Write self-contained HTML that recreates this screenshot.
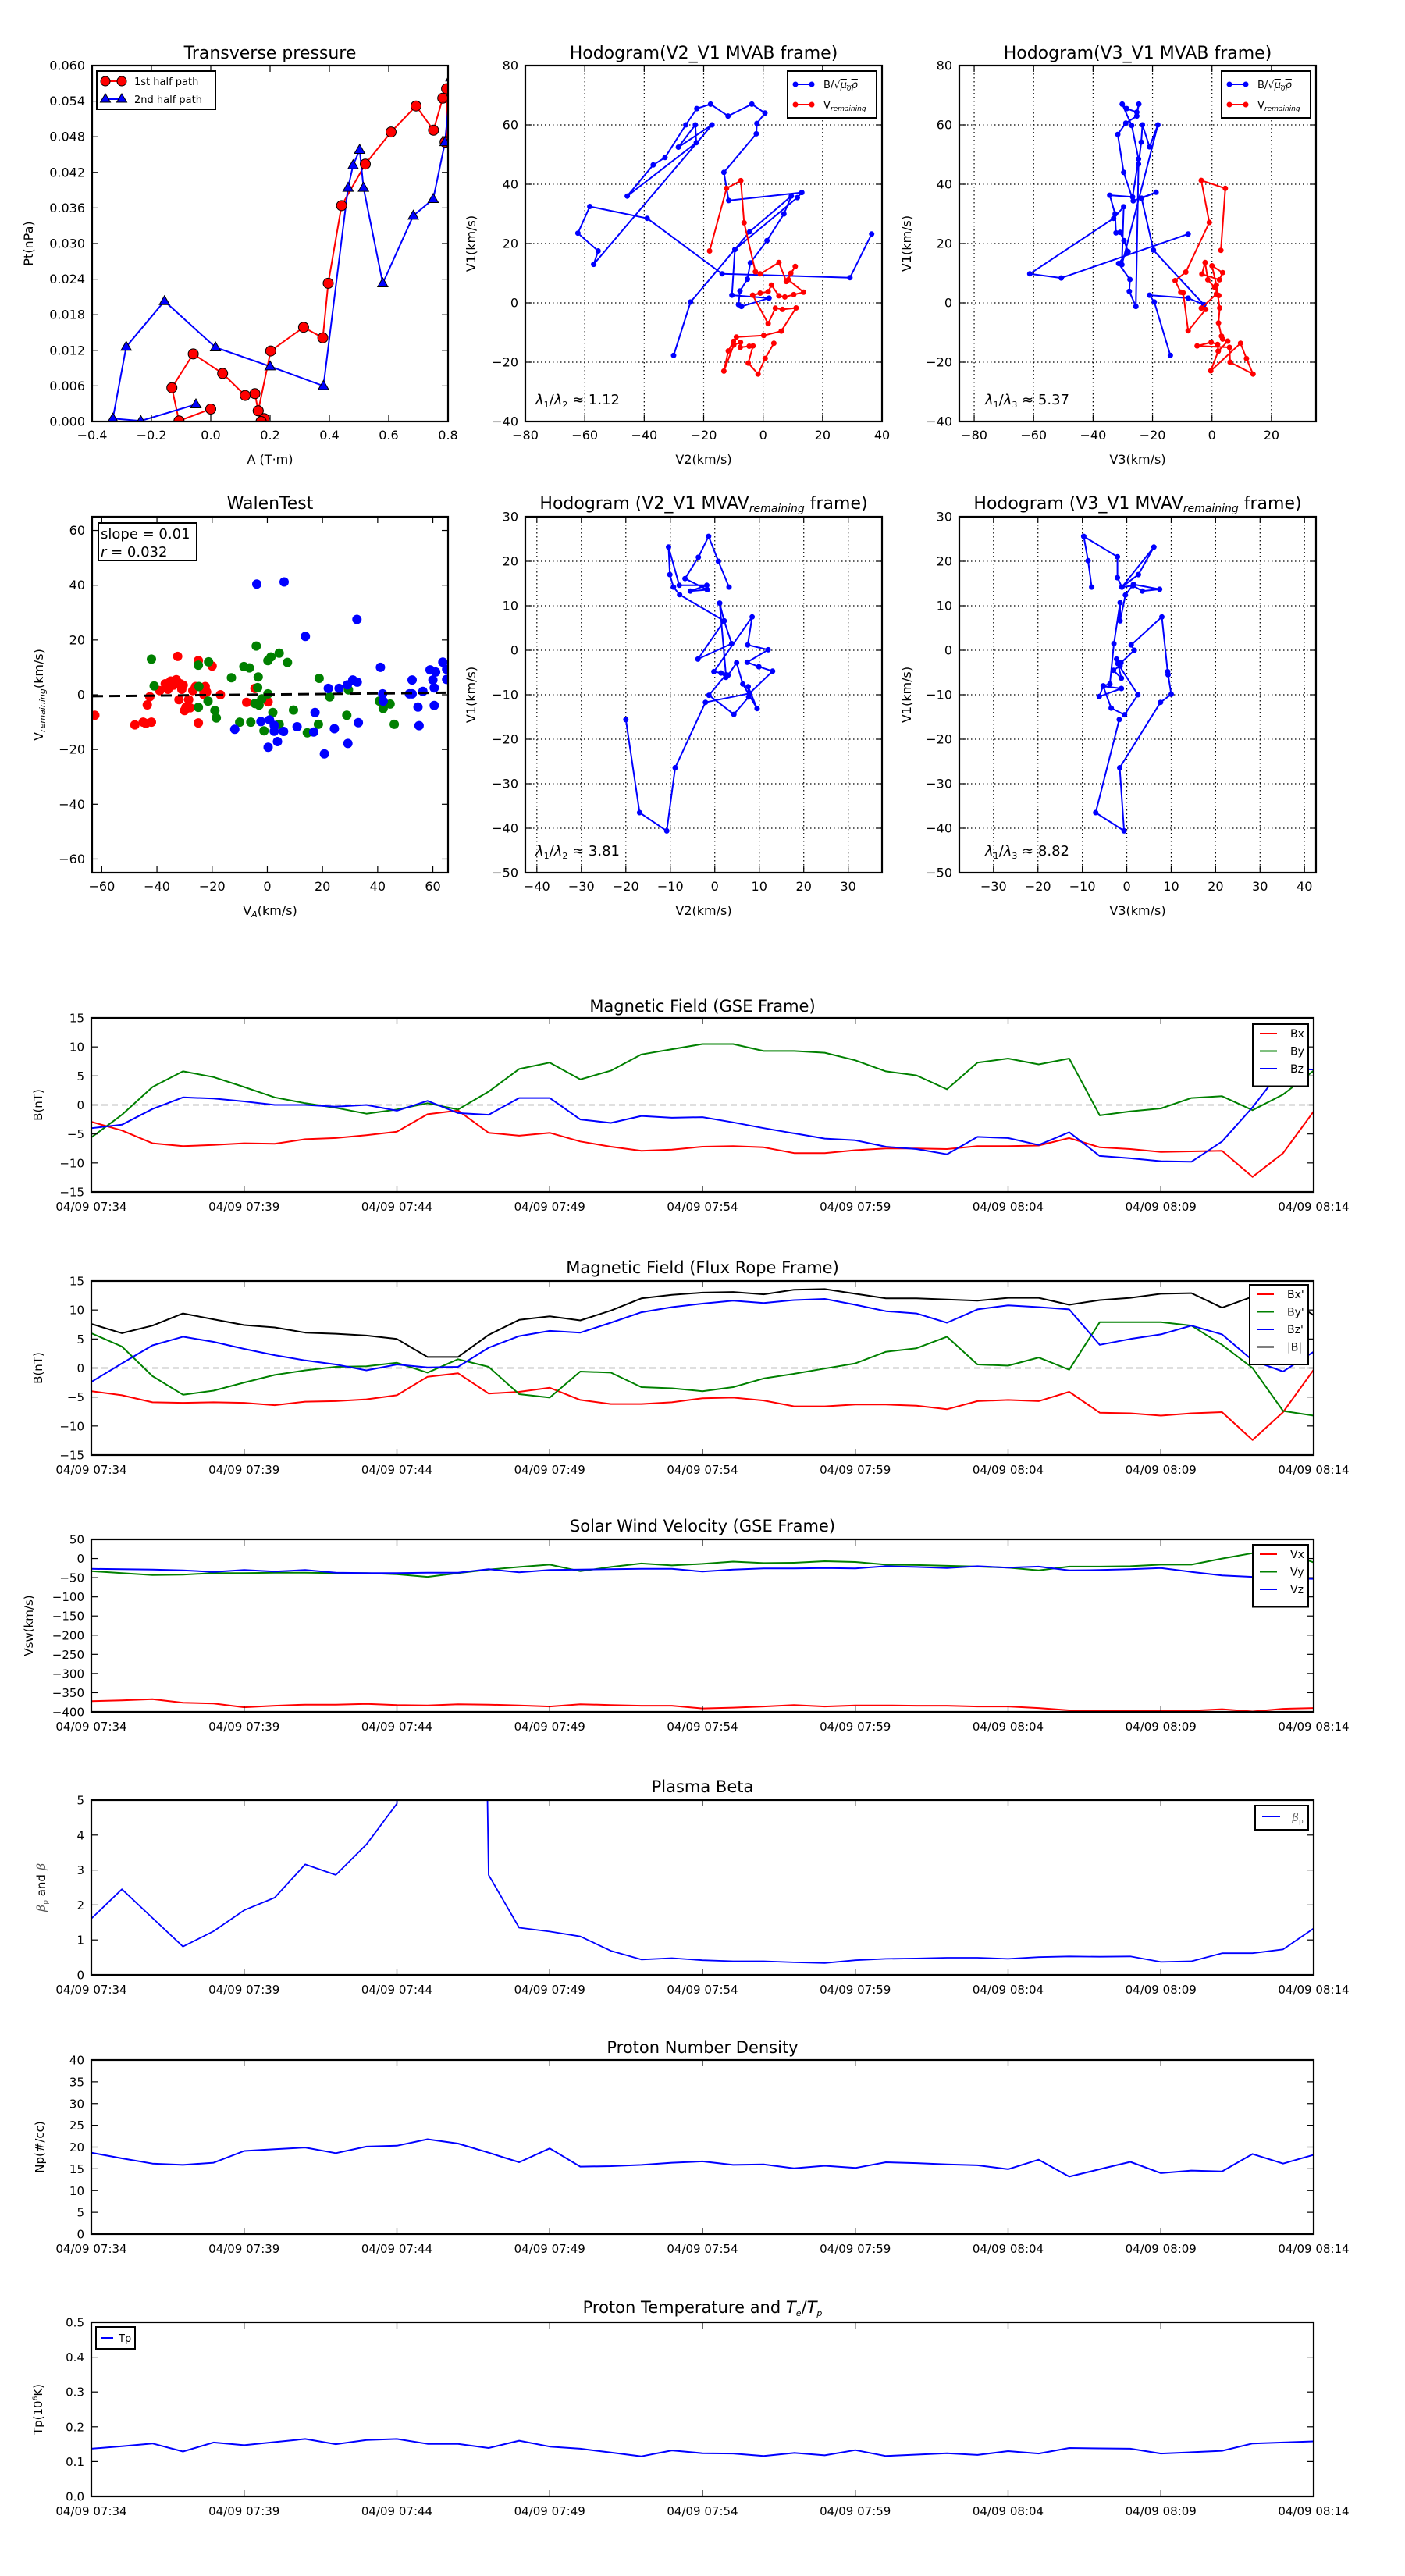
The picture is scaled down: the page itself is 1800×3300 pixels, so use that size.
<!DOCTYPE html>
<html><head><meta charset="utf-8"><title>Flux rope analysis</title>
<style>
body{margin:0;background:#fff}
svg{display:block;font-family:"DejaVu Sans","Liberation Sans",sans-serif}
</style></head>
<body>
<svg id="fig" width="1800" height="3300" viewBox="0 0 1800 3300" xmlns="http://www.w3.org/2000/svg"><rect width="1800" height="3300" fill="#fff"/></svg>
<script>
// ---------- data ----------
const tMin=[0,1,2,3,4,5,6,7,8,9,10,11,12,13,14,15,16,17,18,19,20,21,22,23,24,25,26,27,28,29,30,31,32,33,34,35,36,37,38,39,40];
const timeTicks=[0,5,10,15,20,25,30,35,40];
const timeLabels=['04/09 07:34','04/09 07:39','04/09 07:44','04/09 07:49','04/09 07:54','04/09 07:59','04/09 08:04','04/09 08:09','04/09 08:14'];

const bxGSE=[-2.9,-4.4,-6.6,-7.1,-6.9,-6.6,-6.7,-5.9,-5.7,-5.2,-4.6,-1.6,-0.96,-4.8,-5.3,-4.8,-6.3,-7.2,-7.9,-7.7,-7.2,-7.1,-7.3,-8.3,-8.3,-7.8,-7.5,-7.5,-7.6,-7.1,-7.1,-7.0,-5.7,-7.3,-7.6,-8.1,-8.0,-7.9,-12.4,-8.3,-1.1];
const byGSE=[-5.6,-1.7,3.1,5.8,4.8,3.1,1.3,0.3,-0.5,-1.5,-0.8,0.3,-0.8,2.3,6.2,7.3,4.4,5.9,8.7,9.6,10.5,10.5,9.3,9.3,9.0,7.7,5.8,5.1,2.7,7.3,8.0,7.0,8.0,-1.8,-1.1,-0.6,1.2,1.5,-0.9,1.8,5.9];
const bzGSE=[-4.0,-3.4,-0.7,1.3,1.1,0.6,0,0,-0.3,0,-1.0,0.7,-1.4,-1.7,1.2,1.2,-2.5,-3.1,-1.9,-2.2,-2.1,-3.0,-4.0,-4.9,-5.8,-6.1,-7.2,-7.6,-8.5,-5.5,-5.7,-6.9,-4.7,-8.8,-9.2,-9.7,-9.8,-6.3,-0.4,6.4,6.1];

const bxFR=[-4.0,-4.7,-5.9,-6.0,-5.9,-6.0,-6.4,-5.8,-5.7,-5.4,-4.7,-1.5,-0.9,-4.4,-4.1,-3.4,-5.5,-6.2,-6.2,-5.9,-5.2,-5.1,-5.6,-6.6,-6.6,-6.3,-6.3,-6.5,-7.1,-5.7,-5.5,-5.7,-4.1,-7.7,-7.8,-8.2,-7.8,-7.6,-12.4,-7.6,-0.3];
const byFR=[6.0,3.7,-1.4,-4.6,-3.9,-2.5,-1.2,-0.4,0.2,0.3,0.9,-0.8,1.5,0.2,-4.5,-5.1,-0.6,-0.8,-3.3,-3.5,-4.0,-3.3,-1.8,-1.0,-0.1,0.8,2.8,3.4,5.4,0.6,0.4,1.8,-0.3,7.9,7.9,7.9,7.3,4.0,0,-7.4,-8.2];
const bzFR=[-2.4,0.8,3.9,5.4,4.5,3.3,2.2,1.3,0.6,-0.4,0.6,0.1,0.2,3.5,5.5,6.4,6.1,7.8,9.6,10.5,11.1,11.6,11.2,11.7,11.9,10.9,9.8,9.4,7.8,10.1,10.8,10.5,10.1,4.0,5.0,5.8,7.3,5.8,1.3,-0.6,2.8];
const btFR=[7.6,6.0,7.3,9.4,8.4,7.4,7.0,6.1,5.9,5.6,5.0,1.9,1.9,5.7,8.3,8.9,8.2,9.9,12.0,12.6,13.0,13.1,12.7,13.5,13.6,12.8,12.0,12.0,11.8,11.6,12.1,12.1,10.9,11.7,12.1,12.8,12.9,10.4,12.3,12.6,9.1];

const vx=[-372,-370,-367,-376,-378,-388,-384,-381,-381,-379,-382,-383,-380,-381,-383,-386,-380,-382,-384,-384,-391,-389,-386,-382,-386,-383,-383,-384,-384,-386,-386,-390,-396,-396,-396,-398,-397,-393,-399,-392,-390];
const vy=[-33,-38,-43,-42,-38,-38,-37,-37,-38,-38,-41,-48,-38,-29,-22,-16,-33,-22,-13,-18,-14,-8,-12,-11,-7,-9,-16,-17,-19,-21,-24,-31,-21,-21,-20,-16,-16,0,14,18,-10];
const vz=[-27,-28,-29,-31,-35,-30,-34,-30,-37,-38,-38,-37,-37,-28,-36,-30,-29,-28,-27,-27,-34,-29,-26,-26,-25,-26,-20,-22,-25,-20,-24,-21,-31,-30,-28,-25,-35,-44,-48,-52,-53];

const betaP=[1.61,2.45,1.63,0.81,1.25,1.85,2.21,3.16,2.86,3.73,4.9,40,60,2.86,1.35,1.24,1.1,0.69,0.44,0.48,0.42,0.39,0.39,0.36,0.34,0.42,0.46,0.47,0.49,0.49,0.46,0.51,0.53,0.52,0.53,0.37,0.39,0.62,0.62,0.73,1.33];
const np=[18.7,17.4,16.2,15.9,16.4,19.1,19.5,19.9,18.6,20.1,20.3,21.8,20.8,18.7,16.5,19.7,15.5,15.6,15.9,16.4,16.7,15.9,16.0,15.1,15.7,15.2,16.5,16.3,16.0,15.8,14.9,17.1,13.2,14.9,16.6,14.0,14.6,14.4,18.4,16.2,18.2];
const tp=[0.137,0.144,0.152,0.129,0.155,0.147,0.156,0.165,0.150,0.162,0.165,0.151,0.151,0.139,0.160,0.143,0.137,0.126,0.115,0.132,0.124,0.123,0.116,0.125,0.118,0.133,0.116,0.120,0.124,0.119,0.130,0.123,0.139,0.138,0.137,0.123,0.127,0.131,0.152,0.155,0.158];

// transverse pressure
const ptA1=[0.0,-0.107,-0.131,-0.059,0.040,0.116,0.149,0.160,0.170,0.180,0.170,0.160,0.202,0.313,0.378,0.396,0.441,0.521,0.608,0.692,0.751,0.782,0.795,0.795,0.790];
const ptP1=[0.0021,0.0001,0.0057,0.0114,0.0081,0.0044,0.0047,0.0018,0.0,0.0005,0.0,0.0018,0.0119,0.0159,0.0141,0.0233,0.0364,0.0434,0.0488,0.0532,0.0491,0.0545,0.0561,0.0471,0.0471];
const ptA2=[-0.05,-0.236,-0.33,-0.285,-0.156,0.016,0.2,0.38,0.463,0.48,0.502,0.515,0.58,0.683,0.75,0.79,0.81];
const ptP2=[0.0029,0.0001,0.0005,0.0126,0.0203,0.0125,0.0093,0.006,0.0394,0.0432,0.0458,0.0394,0.0233,0.0347,0.0375,0.0471,0.058];

// hodogram V2-V1 MVAB
const h1bV2=[-30.1,-24.4,-4.5,9.5,7,1.3,-4.3,-5.3,-7.8,-8.3,-7.3,2,-10.5,-9.5,11.5,13,-11.6,-13.2,-2.3,-2.1,0.6,-3.8,-11.8,-17.7,-22.3,-26,-33,-37,-45.7,-22.5,-22.8,-28.5,-17.2,-57,-55.5,-62.3,-58.3,-39,-13.8,29.2,36.5];
const h1bV1=[-17.7,0.3,24,36,30,21,13.5,8,4,-0.6,-1.2,1.6,2.6,18,35.5,37.2,34.5,44,57,60.5,64,67,63,67,65.5,60,49,46.5,36,54,60,52.5,60,13,17.5,23.5,32.5,28.5,9.8,8.5,23.2];
const h1rV2=[-18,-12.3,-7.5,-6.4,-2.6,-1,5.3,7.8,10.8,9.3,8.5,13.6,10.3,7.3,5.3,2.8,1.7,-1,-3.5,1.7,4.1,6.5,11.1,6.1,0.2,-9,-10,-11.7,-13.2,-9.9,-7.6,-7.7,-4.7,-3.4,-5,-1.7,0.7,3.6];
const h1rV1=[17.5,38.6,41.2,27,10.5,9.8,13.6,7.2,12.3,10,7.8,3.6,2.8,2,2.4,6,3.8,3.3,2.6,-7,-1.8,-2.2,-1.7,-9.5,-11,-11.5,-13,-16.2,-23,-14.2,-13.3,-15,-14.6,-14.5,-20.3,-24,-18.7,-13.6];
// hodogram V3-V1 MVAB
const h2bV3=[-14,-19.4,-21,-8,-2.7,-19.7,-23.7,-18.8,-26.5,-29.7,-31.7,-29,-25.3,-24.6,-25.3,-28.7,-30.2,-27,-24.7,-26.7,-34.4,-32.6,-32.3,-30.9,-29.6,-28.2,-31.4,-27.6,-27.8,-25.6,-24.7,-23.8,-23.4,-21,-18.2,-30.3,-29.7,-33.1,-61.3,-50.7,-8];
const h2bV1=[-17.7,0.3,2.6,1.6,-0.6,17.8,35.3,37.3,34.4,44,56.8,60.6,63,67,64.3,65.5,67,59.8,48.5,35.7,36.3,30,23.6,23.8,21,17.3,13.3,7.9,3.9,-1.2,46.8,54.2,60,52.6,60,12.9,32.4,28.5,9.8,8.4,23.2];
const h2rV3=[3,4.5,-3.6,-0.9,-8.8,-12.4,-10.5,-9.7,-8,-2.1,-3.6,1.5,2.3,0.9,-1.4,-2.3,-3.4,2.5,3.6,0,1.5,2.6,2.2,3.2,3.6,5.3,2.1,1.9,-0.3,-5,5.9,6.1,13.8,11.6,9.6,-0.4,2.1];
const h2rV1=[17.7,38.6,41.3,27.1,10.4,7.5,3.6,3.4,-9.4,-2.2,-1.8,3,2.5,5.3,7.8,13.6,9.7,7.8,10.2,12.5,6,-1.7,-6.8,-11.2,-12.2,-12.9,-16.3,-14,-13.3,-14.5,-15,-20,-24,-18.8,-13.6,-22.9,-16.3];
// hodogram MVAV
const h3V2=[-20,-16.9,-10.8,-8.9,-2.1,7.8,13,9.9,7.3,12,7.4,8.4,-0.2,1.4,2.5,3,4.9,6.3,9.5,7.5,7.6,4.3,-1.3,2.5,1.1,2.1,3.8,-3.8,2.1,-7.9,-9.3,-10.1,-10.4,-8,-1.8,-5.5,-1.7,-6.7,-3.7,-1.4,0.8,3.2];
const h3V1=[-15.6,-36.5,-40.6,-26.4,-11.7,-9.7,-4.7,-3.7,-2.7,0.1,1.2,7.5,-4.8,-5.1,-6.1,-5.6,-2.8,-7.6,-13.1,-8.2,-10.5,-14.4,-10.1,-5.5,10.6,6.6,1.5,-2,6.6,12.5,14.2,17,23.2,14.6,14.6,13.3,13.6,16.1,20.9,25.6,20,14.2];
const h4V3=[-1.7,-7,-0.6,-1.6,7.6,10,9.3,9.2,7.9,1,1.7,-1.3,-2.3,-1.5,-3,-1.2,-2,2.5,-0.5,-3.5,-5.3,-1.2,-6.2,-5.3,-3.8,-2.9,-1.5,-1.5,-0.3,1.5,7.4,3.5,1.4,-1.1,2.6,6.1,-1.1,-2.1,-2.1,-9.7,-8.7,-7.9];
const h4V1=[-15.6,-36.5,-40.6,-26.4,-11.7,-9.9,-5.5,-4.8,7.5,1.2,0,-2.8,-2,-3.5,-4.5,-6.3,-3,-10,-14.5,-13,-8.1,-8.6,-10.4,-8,-7.6,1.5,10.7,6.6,12.4,14.8,13.7,13.3,14.5,14.2,17,23.2,14.2,16.3,21,25.6,20.1,14.2];
// Walen test
const walRedVA=[-62.5,-48,-45,-44,-42,-43.5,-42.6,-39,-37,-36,-35,-34,-33,-32.5,-32,-31.5,-31,-30.5,-30,-29.5,-28.5,-28,-27,-26,-25,-25,-23,-22.5,-22,-23,-20,-17,-4.5,-7.5,0.3];
const walRedV=[-7.5,-11,-10,-10.5,-10,-3.7,-0.7,1.5,4,2,5,3.5,5.5,14,-1.8,4,2,3.5,-5.8,-4.6,-1.8,-4.8,1.5,3,12.5,-10.3,1,3,1,0,10.5,0,2.3,-2.8,-2.6];
const walGrnVA=[-42,-41,-25,-24.8,-25,-21.3,-21.5,-19,-18.5,-13,-8.5,-6.5,-10,-6,-4,-3.3,-3.5,-4.5,-3,-2,-1.2,0.2,1.3,0.2,2,4.3,7.3,4.3,9.5,14.5,18.5,18.8,22.6,28.8,29.4,40.6,42,44.5,46];
const walGrnV=[13,3.2,10.8,3,-4.6,12,-2.3,-5.8,-8.5,6.2,10.3,9.8,-10,-10,17.8,6.5,2.6,-3.2,-3.8,-1.5,-13.2,12.5,13.8,0.3,-6.5,15.2,11.8,-10.8,-5.6,-13.9,-10.8,6,-0.8,-7.5,1.8,-2.3,-5,-3.4,-10.8];
const walBluVA=[-3.8,6.1,13.8,32.5,-11.8,-2.3,0.3,0.8,2.5,2.5,3.7,5.9,10.8,17.3,16.8,20.7,22.1,24.3,26,29.2,29,31,32.6,33,41,41.8,42,51.5,52.5,52.5,54.6,55,56.4,59,60,60.5,60.5,61,63.6,65,65];
const walBluV=[40.4,41.2,21.3,27.5,-12.6,-9.8,-19.2,-9.2,-11.2,-13.3,-17.1,-13.4,-11.7,-6.5,-13.6,-21.6,2.3,-12.4,2.3,-17.8,3.6,5.4,4.6,-10.2,10,0.3,-2.3,0.3,0.3,5.4,-4.5,-11.3,1.2,9.1,5.4,2.5,-3.9,8.3,11.9,9.3,5.6];
const walenSlope=[0.01];
const walenIntercept=[0.1];

// ---------- helpers ----------
const NS='http://www.w3.org/2000/svg';
const svg=document.getElementById('fig');
let clipN=0;
function mk(tag,parent){const e=document.createElementNS(NS,tag);parent.appendChild(e);return e;}
function at(e,o){for(const k in o)e.setAttribute(k,o[k]);return e;}
function txt(parent,x,y,html,size,anchor,extra){const t=mk('text',parent);at(t,{x:x,y:y,'font-size':size,'text-anchor':anchor||'middle',fill:'#000'});if(extra)at(t,extra);t.innerHTML=html;return t;}

function makeAxes(c){
  const g=mk('g',svg);
  
  
  const sx=v=>c.x0+(v-c.xmin)/(c.xmax-c.xmin)*(c.x1-c.x0);
  const sy=v=>c.y1-(v-c.ymin)/(c.ymax-c.ymin)*(c.y1-c.y0);
  const cid='clip'+(++clipN);
  const cp=at(mk('clipPath',g),{id:cid});
  at(mk('rect',cp),{x:c.x0,y:c.y0,width:c.x1-c.x0,height:c.y1-c.y0});
  if(c.grid){
    const gg=mk('g',g);
    
    
    c.xticks.forEach(v=>{const X=sx(v);if(X>c.x0+1&&X<c.x1-1)at(mk('line',gg),{x1:X,x2:X,y1:c.y0,y2:c.y1,stroke:'#000','stroke-width':1.2,'stroke-dasharray':'1.5,3.5'});});
    c.yticks.forEach(v=>{const Y=sy(v);if(Y>c.y0+1&&Y<c.y1-1)at(mk('line',gg),{x1:c.x0,x2:c.x1,y1:Y,y2:Y,stroke:'#000','stroke-width':1.2,'stroke-dasharray':'1.5,3.5'});});
  }
  const data=at(mk('g',g),{'clip-path':'url(#'+cid+')'});
  
  
  const fr=at(mk('rect',g),{x:c.x0,y:c.y0,width:c.x1-c.x0,height:c.y1-c.y0,fill:'none',stroke:'#000','stroke-width':2.2});
  
  
  const tg=mk('g',g);
  
  
  c.xticks.forEach((v,i)=>{const X=sx(v);
    at(mk('line',tg),{x1:X,x2:X,y1:c.y1,y2:c.y1-8,stroke:'#000','stroke-width':1.2});
    at(mk('line',tg),{x1:X,x2:X,y1:c.y0,y2:c.y0+8,stroke:'#000','stroke-width':1.2});
    const t=txt(tg,X,c.y1+(c.xtDy||23),c.xtl[i],c.tf||15,'middle');
    
    
  });
  c.yticks.forEach((v,i)=>{const Y=sy(v);
    at(mk('line',tg),{x1:c.x0,x2:c.x0+8,y1:Y,y2:Y,stroke:'#000','stroke-width':1.2});
    at(mk('line',tg),{x1:c.x1,x2:c.x1-8,y1:Y,y2:Y,stroke:'#000','stroke-width':1.2});
    const t=txt(tg,c.x0-(c.ytDx||9),Y+5.5,c.ytl[i],c.tf||15,'end');
    
    
  });
  const ti=txt(g,(c.x0+c.x1)/2,c.titleY,c.title,c.titleSize||22,'middle');
  
  
  if(c.xlabel){const xl=txt(g,(c.x0+c.x1)/2,c.xlabelY,c.xlabel,c.lf||15,'middle');
    
    }
  if(c.ylabel){const cy=(c.y0+c.y1)/2;const yl=txt(g,c.ylabelX,cy,c.ylabel,c.lf||15,'middle',{transform:'rotate(-90 '+c.ylabelX+' '+cy+')'});
    
    }
  return {sx,sy,g,data,c};
}
function lineSeries(ax,xs,ys,color,w,extra){
  const p=mk('polyline',ax.data);
  at(p,{points:xs.map((x,i)=>ax.sx(x).toFixed(1)+','+ax.sy(ys[i]).toFixed(1)).join(' '),fill:'none',stroke:color,'stroke-width':w,'stroke-linejoin':'round'});
  if(extra)at(p,extra);
  return p;
}
function dotSeries(ax,xs,ys,color,r,edge){
  const g=mk('g',ax.data);
  xs.forEach((x,i)=>{const d=mk('circle',g);at(d,{cx:ax.sx(x).toFixed(1),cy:ax.sy(ys[i]).toFixed(1),r:r,fill:color});if(edge)at(d,{stroke:edge,'stroke-width':1});});
  return g;
}
function triSeries(ax,xs,ys,color,s){
  const g=mk('g',ax.data);
  xs.forEach((x,i)=>{const X=ax.sx(x),Y=ax.sy(ys[i]);const p=mk('polygon',g);at(p,{points:(X)+','+(Y-s)+' '+(X-s*0.95)+','+(Y+s*0.65)+' '+(X+s*0.95)+','+(Y+s*0.65),fill:color,stroke:'#000','stroke-width':1});});
  return g;
}
function legendBox(parent,x,y,w,h){return at(mk('rect',parent),{x:x,y:y,width:w,height:h,fill:'#fff',stroke:'#000','stroke-width':2});}
function rng(a,b,s){const r=[];for(let v=a;v<=b+1e-9;v+=s)r.push(+v.toFixed(6));return r;}
const MINUS='\u2212';
function fmt(v,d){const s=Math.abs(v).toFixed(d);return (v<0?MINUS:'')+s;}

// ---------- Row 1 ----------
const axP=makeAxes({name:'transverse-pressure-chart',x0:118,x1:574,y0:84,y1:540,xmin:-0.4,xmax:0.8,ymin:0,ymax:0.06,tf:16,lf:16,
  xticks:rng(-0.4,0.8,0.2),xtl:rng(-0.4,0.8,0.2).map(v=>fmt(v,1)),yticks:rng(0,0.06,0.006),ytl:rng(0,0.06,0.006).map(v=>v.toFixed(3)),
  title:'Transverse pressure',titleY:75,xlabel:'A (T·m)',xlabelY:594,ylabel:'Pt(nPa)',ylabelX:42});
const pl1=lineSeries(axP,ptA1,ptP1,'#f00',2);


const pl2=lineSeries(axP,ptA2,ptP2,'#00f',2);


const pm1=dotSeries(axP,ptA1,ptP1,'#f00',6.5,'#000');


const pm2=triSeries(axP,ptA2,ptP2,'#00f',7);


(function(){const g=mk('g',axP.g);
 
 
 legendBox(g,124,91,152,49);
 at(mk('line',g),{x1:135,x2:156,y1:104,y2:104,stroke:'#f00','stroke-width':2});
 at(mk('circle',g),{cx:135,cy:104,r:6,fill:'#f00',stroke:'#000'});at(mk('circle',g),{cx:156,cy:104,r:6,fill:'#f00',stroke:'#000'});
 txt(g,172,109,'1st half path',13,'start');
 at(mk('line',g),{x1:135,x2:156,y1:127,y2:127,stroke:'#00f','stroke-width':2});
 [135,156].forEach(X=>at(mk('polygon',g),{points:X+',120 '+(X-6.5)+',131 '+(X+6.5)+',131',fill:'#00f',stroke:'#000'}));
 txt(g,172,132,'2nd half path',13,'start');
})();

function hodoLegend(ax,x,y){
  const g=mk('g',ax.g);
  
  
  legendBox(g,x,y,114,60);
  at(mk('line',g),{x1:x+10,x2:x+31,y1:y+17,y2:y+17,stroke:'#00f','stroke-width':2});
  at(mk('circle',g),{cx:x+10,cy:y+17,r:3.5,fill:'#00f'});at(mk('circle',g),{cx:x+31,cy:y+17,r:3.5,fill:'#00f'});
  txt(g,x+46,y+22,'B/√<tspan font-style="italic" text-decoration="overline">μ<tspan font-size="9" dy="3">0</tspan><tspan dy="-3">ρ</tspan></tspan>',13,'start');
  at(mk('line',g),{x1:x+10,x2:x+31,y1:y+43,y2:y+43,stroke:'#f00','stroke-width':2});
  at(mk('circle',g),{cx:x+10,cy:y+43,r:3.5,fill:'#f00'});at(mk('circle',g),{cx:x+31,cy:y+43,r:3.5,fill:'#f00'});
  txt(g,x+46,y+48,'V<tspan font-size="9" font-style="italic" dy="3">remaining</tspan>',13,'start');
}
function lam(ax,x,y,s){const t=txt(ax.g,x,y,s,18,'start');}

const axH1=makeAxes({name:'hodogram-v2-v1-mvab',x0:673,x1:1130,y0:84,y1:540,xmin:-80,xmax:40,ymin:-40,ymax:80,grid:true,tf:16,lf:16,
  xticks:rng(-80,40,20),xtl:rng(-80,40,20).map(v=>fmt(v,0)),yticks:rng(-40,80,20),ytl:rng(-40,80,20).map(v=>fmt(v,0)),
  title:'Hodogram(V2_V1 MVAB frame)',titleY:75,xlabel:'V2(km/s)',xlabelY:594,ylabel:'V1(km/s)',ylabelX:609});
let s=lineSeries(axH1,h1bV2,h1bV1,'#00f',2);
s=dotSeries(axH1,h1bV2,h1bV1,'#00f',3.5);
s=lineSeries(axH1,h1rV2,h1rV1,'#f00',2);
s=dotSeries(axH1,h1rV2,h1rV1,'#f00',3.5);
hodoLegend(axH1,1009,91);
lam(axH1,686,518,'<tspan font-style="italic">λ</tspan><tspan font-size="11" dy="4">1</tspan><tspan dy="-4">/</tspan><tspan font-style="italic">λ</tspan><tspan font-size="11" dy="4">2</tspan><tspan dy="-4"> ≈ 1.12</tspan>');

const axH2=makeAxes({name:'hodogram-v3-v1-mvab',x0:1229,x1:1686,y0:84,y1:540,xmin:-85,xmax:35,ymin:-40,ymax:80,grid:true,tf:16,lf:16,
  xticks:rng(-80,20,20),xtl:rng(-80,20,20).map(v=>fmt(v,0)),yticks:rng(-40,80,20),ytl:rng(-40,80,20).map(v=>fmt(v,0)),
  title:'Hodogram(V3_V1 MVAB frame)',titleY:75,xlabel:'V3(km/s)',xlabelY:594,ylabel:'V1(km/s)',ylabelX:1167});
s=lineSeries(axH2,h2bV3,h2bV1,'#00f',2);
s=dotSeries(axH2,h2bV3,h2bV1,'#00f',3.5);
s=lineSeries(axH2,h2rV3,h2rV1,'#f00',2);
s=dotSeries(axH2,h2rV3,h2rV1,'#f00',3.5);
hodoLegend(axH2,1565,91);
lam(axH2,1262,518,'<tspan font-style="italic">λ</tspan><tspan font-size="11" dy="4">1</tspan><tspan dy="-4">/</tspan><tspan font-style="italic">λ</tspan><tspan font-size="11" dy="4">3</tspan><tspan dy="-4"> ≈ 5.37</tspan>');

// ---------- Row 2 ----------
const axW=makeAxes({name:'walen-test-chart',x0:118,x1:574,y0:662,y1:1118,xmin:-63.5,xmax:65.5,ymin:-65,ymax:65,tf:16,lf:16,
  xticks:rng(-60,60,20),xtl:rng(-60,60,20).map(v=>fmt(v,0)),yticks:rng(-60,60,20),ytl:rng(-60,60,20).map(v=>fmt(v,0)),
  title:'WalenTest',titleY:652,xlabel:'V<tspan font-size="11" font-style="italic" dy="3">A</tspan><tspan dy="-3">(km/s)</tspan>',xlabelY:1172,
  ylabel:'V<tspan font-size="11" font-style="italic" dy="3">remaining</tspan><tspan dy="-3">(km/s)</tspan>',ylabelX:55});
s=dotSeries(axW,walRedVA,walRedV,'#f00',6);
s=dotSeries(axW,walGrnVA,walGrnV,'#008000',6);
s=dotSeries(axW,walBluVA,walBluV,'#00f',6);
(function(){const xa=[-63.5,65.5];const ya=xa.map(x=>walenSlope[0]*x+walenIntercept[0]);
 const f=lineSeries(axW,xa,ya,'#000',3,{'stroke-dasharray':'14,8'});
 
 
 const g=mk('g',axW.g);
 
 
 legendBox(g,126,670,126,48);
 txt(g,129,690,'slope = 0.01',18,'start');
 txt(g,129,713,'<tspan font-style="italic">r</tspan> = 0.032',18,'start');
})();

const axH3=makeAxes({name:'hodogram-v2-v1-mvav',x0:673,x1:1130,y0:662,y1:1118,xmin:-42.6,xmax:37.6,ymin:-50,ymax:30,grid:true,tf:16,lf:16,
  xticks:rng(-40,30,10),xtl:rng(-40,30,10).map(v=>fmt(v,0)),yticks:rng(-50,30,10),ytl:rng(-50,30,10).map(v=>fmt(v,0)),
  title:'Hodogram (V2_V1 MVAV<tspan font-size="14" font-style="italic" dy="4">remaining</tspan><tspan dy="-4"> frame)</tspan>',titleY:652,xlabel:'V2(km/s)',xlabelY:1172,ylabel:'V1(km/s)',ylabelX:609});
s=lineSeries(axH3,h3V2,h3V1,'#00f',2);
s=dotSeries(axH3,h3V2,h3V1,'#00f',3.5);
lam(axH3,686,1096,'<tspan font-style="italic">λ</tspan><tspan font-size="11" dy="4">1</tspan><tspan dy="-4">/</tspan><tspan font-style="italic">λ</tspan><tspan font-size="11" dy="4">2</tspan><tspan dy="-4"> ≈ 3.81</tspan>');

const axH4=makeAxes({name:'hodogram-v3-v1-mvav',x0:1229,x1:1686,y0:662,y1:1118,xmin:-37.7,xmax:42.6,ymin:-50,ymax:30,grid:true,tf:16,lf:16,
  xticks:rng(-30,40,10),xtl:rng(-30,40,10).map(v=>fmt(v,0)),yticks:rng(-50,30,10),ytl:rng(-50,30,10).map(v=>fmt(v,0)),
  title:'Hodogram (V3_V1 MVAV<tspan font-size="14" font-style="italic" dy="4">remaining</tspan><tspan dy="-4"> frame)</tspan>',titleY:652,xlabel:'V3(km/s)',xlabelY:1172,ylabel:'V1(km/s)',ylabelX:1167});
s=lineSeries(axH4,h4V3,h4V1,'#00f',2);
s=dotSeries(axH4,h4V3,h4V1,'#00f',3.5);
lam(axH4,1262,1096,'<tspan font-style="italic">λ</tspan><tspan font-size="11" dy="4">1</tspan><tspan dy="-4">/</tspan><tspan font-style="italic">λ</tspan><tspan font-size="11" dy="4">3</tspan><tspan dy="-4"> ≈ 8.82</tspan>');

// ---------- time series ----------
function tsAxes(name,y0,y1,ymin,ymax,yticks,ytl,title,titleY,ylabel,ylabelX){
  return makeAxes({name:name,x0:117,x1:1683,y0:y0,y1:y1,xmin:0,xmax:40,ymin:ymin,ymax:ymax,
    xticks:timeTicks,xtl:timeLabels,yticks:yticks,ytl:ytl,title:title,titleY:titleY,titleSize:21,ylabel:ylabel,ylabelX:ylabelX,xtDy:24});
}
function tsLegend(ax,x,y,w,entries){
  const g=mk('g',ax.g);
  
  
  legendBox(g,x,y,w,12+entries.length*22.5);
  entries.forEach((e,i)=>{const Y=y+12+i*22.5;
    at(mk('line',g),{x1:x+9,x2:x+31,y1:Y,y2:Y,stroke:e[0],'stroke-width':2});
    txt(g,x+48,Y+5,e[1],14,'start');});
}
function zeroLine(ax){const z=lineSeries(ax,[0,40],[0,0],'#000',1.2,{'stroke-dasharray':'8,5'});
  
  }
function ser(ax,ys,color,name,w){const p=lineSeries(ax,tMin,ys,color,w||2);
  
  }

const bT=rng(-15,15,5);
const axB=tsAxes('magnetic-field-gse-chart',1304,1527,-15,15,bT,bT.map(v=>fmt(v,0)),'Magnetic Field (GSE Frame)',1296,'B(nT)',54);
zeroLine(axB);
ser(axB,bxGSE,'#f00','bx-line');ser(axB,byGSE,'#008000','by-line');ser(axB,bzGSE,'#00f','bz-line');
tsLegend(axB,1605,1312,71,[['#f00','Bx'],['#008000','By'],['#00f','Bz']]);

const axF=tsAxes('magnetic-field-flux-rope-chart',1641,1864,-15,15,bT,bT.map(v=>fmt(v,0)),'Magnetic Field (Flux Rope Frame)',1631,'B(nT)',54);
zeroLine(axF);
ser(axF,bxFR,'#f00','bx-prime-line');ser(axF,byFR,'#008000','by-prime-line');ser(axF,bzFR,'#00f','bz-prime-line');ser(axF,btFR,'#000','b-magnitude-line');
tsLegend(axF,1601,1646,75,[['#f00',"Bx'"],['#008000',"By'"],['#00f',"Bz'"],['#000','|B|']]);

const vT=rng(-400,50,50);
const axV=tsAxes('solar-wind-velocity-chart',1972,2193,-400,50,vT,vT.map(v=>fmt(v,0)),'Solar Wind Velocity (GSE Frame)',1962,'Vsw(km/s)',42);
ser(axV,vx,'#f00','vx-line');ser(axV,vy,'#008000','vy-line');ser(axV,vz,'#00f','vz-line');
tsLegend(axV,1605,1979,71,[['#f00','Vx'],['#008000','Vy'],['#00f','Vz']]);

const betaT=[0,1,2,3,4,5];
const axBe=tsAxes('plasma-beta-chart',2306,2530,0,5,betaT,betaT.map(v=>String(v)),'Plasma Beta',2296,'<tspan font-style="italic" fill="#555">β</tspan><tspan font-size="9" fill="#555" dy="3">p</tspan><tspan dy="-3"> and </tspan><tspan font-style="italic" fill="#555">β</tspan>',58);
ser(axBe,betaP,'#00f','beta-p-line',1.8);
(function(){const g=mk('g',axBe.g);
 
 
 legendBox(g,1608,2313,68,31);
 at(mk('line',g),{x1:1617,x2:1640,y1:2327,y2:2327,stroke:'#00f','stroke-width':2});
 txt(g,1655,2333,'<tspan font-style="italic" fill="#666">β</tspan><tspan font-size="9" fill="#666" dy="3">p</tspan>',14,'start');})();

const npT=rng(0,40,5);
const axN=tsAxes('proton-density-chart',2639,2862,0,40,npT,npT.map(v=>String(v)),'Proton Number Density',2630,'Np(#/cc)',56);
ser(axN,np,'#00f','proton-density-line');

const tpT=rng(0,0.5,0.1);
const axT=tsAxes('proton-temperature-chart',2975,3198,0,0.5,tpT,tpT.map(v=>v.toFixed(1)),'Proton Temperature and <tspan font-style="italic">T</tspan><tspan font-size="11" font-style="italic" dy="4">e</tspan><tspan dy="-4">/</tspan><tspan font-style="italic">T</tspan><tspan font-size="11" font-style="italic" dy="4">p</tspan>',2963,'Tp(10<tspan font-size="9" dy="-6">6</tspan><tspan dy="6">K)</tspan>',54);
ser(axT,tp,'#00f','proton-temperature-line');
(function(){const g=mk('g',axT.g);
 
 
 legendBox(g,123,2981,50,28);
 at(mk('line',g),{x1:130,x2:145,y1:2995,y2:2995,stroke:'#00f','stroke-width':2});
 txt(g,152,3000,'Tp',13,'start');})();
</script>
</body></html>
